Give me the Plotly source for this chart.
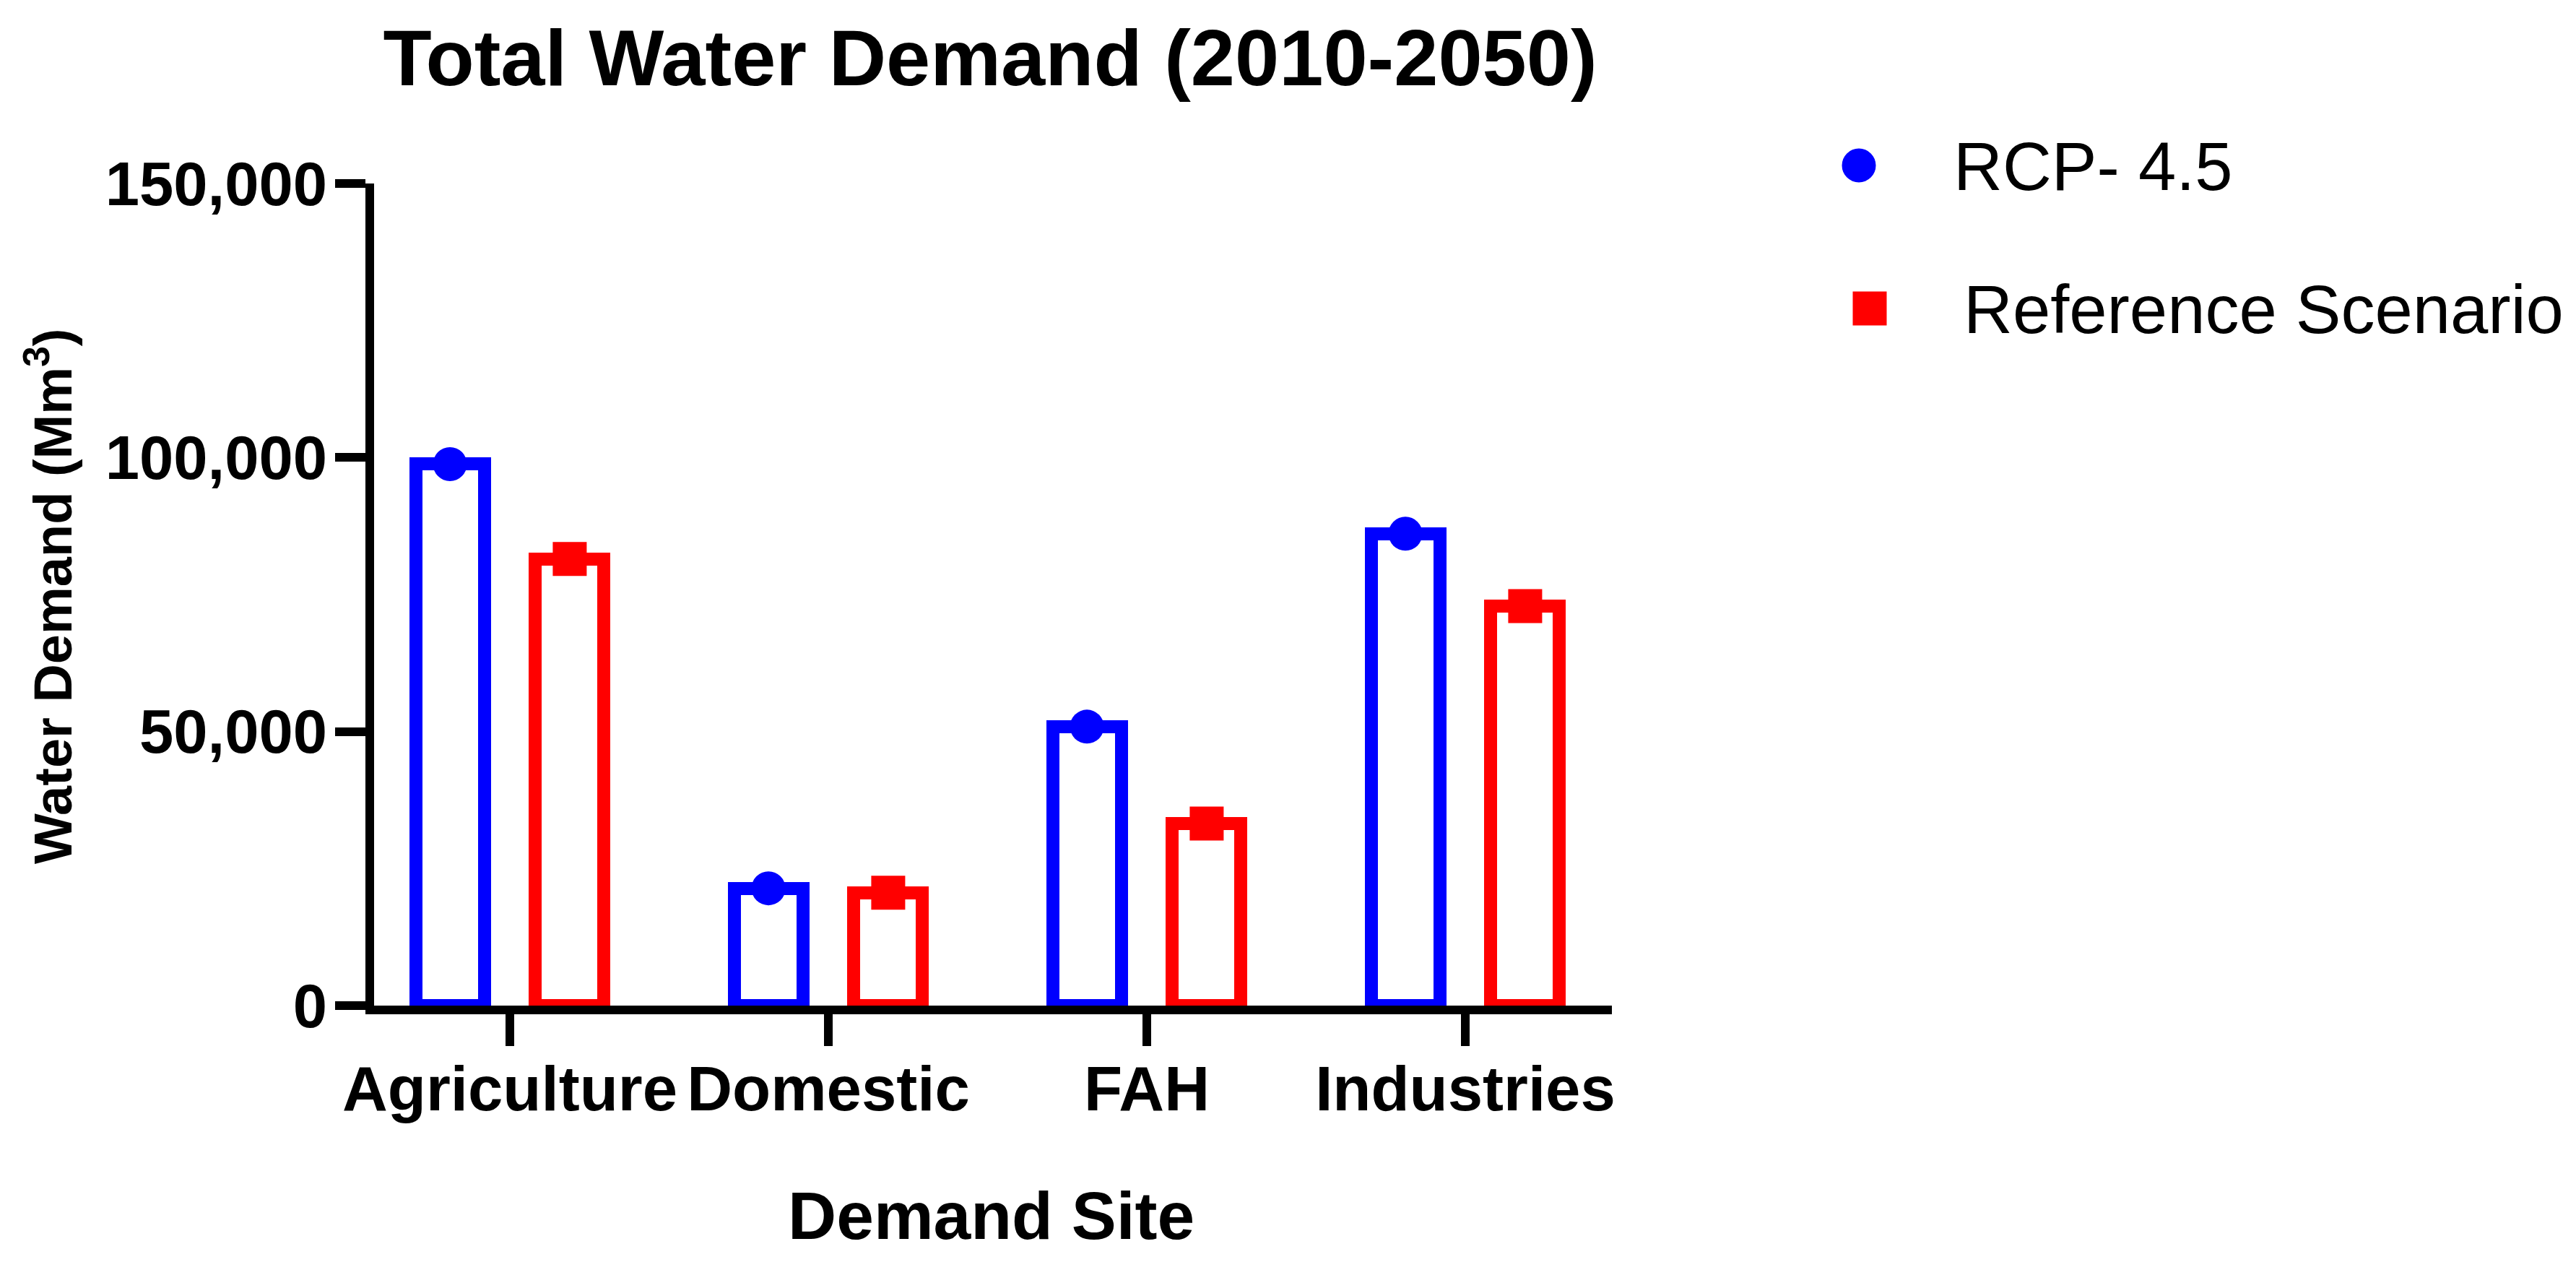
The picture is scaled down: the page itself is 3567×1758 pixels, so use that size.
import numpy as np
import plotly.graph_objects as go

# ---------------- data ----------------
categories = ["Agriculture", "Domestic", "FAH", "Industries"]
rcp45 = [98800, 21400, 50900, 86100]
reference = [81500, 20600, 33200, 72900]
series_names = ["RCP- 4.5", "Reference Scenario"]
y_ticks = [0, 50000, 100000, 150000]

# ---------------- layout constants (pixels) ----------------
W, H = 3567, 1758
PL, PR, PT, PB = 518, 2232, 254, 1392
BLUE, RED = "#0000FF", "#FF0000"
FONT = "Arial, Liberation Sans, Helvetica, sans-serif"
SHIFT = 0.188   # group offset in category units
BW = 0.2154     # bar width in category units


def px2x(px):
    return (px - PL) / (PR - PL)


def py2y(py):
    return (PB - py) / (PB - PT)


idx = np.arange(len(categories))

fig = go.Figure()
for vals, shift, color, sym, name in [
    (rcp45, -SHIFT, BLUE, "circle", series_names[0]),
    (reference, SHIFT, RED, "square", series_names[1]),
]:
    fig.add_trace(go.Bar(
        x=idx + shift, y=vals, width=BW,
        marker=dict(color="white", line=dict(color=color, width=18)),
        showlegend=False, name=name,
    ))
    fig.add_trace(go.Scatter(
        x=idx + shift, y=vals, mode="markers",
        marker=dict(symbol=sym, size=47, color=color, line=dict(width=0)),
        showlegend=False, name=name, cliponaxis=False,
    ))

fig.update_layout(
    width=W, height=H,
    margin=dict(l=PL, r=W - PR, t=PT, b=H - PB, pad=0),
    paper_bgcolor="white", plot_bgcolor="white",
    showlegend=False,
    font=dict(family=FONT, color="black"),
    title=dict(
        text="Total Water Demand (2010-2050)",
        font=dict(family=FONT, size=110, weight="bold", color="black"),
        x=1371 / W, xanchor="center",
        y=1 - 79 / H, yanchor="middle", xref="container", yref="container",
    ),
    xaxis=dict(
        range=[(PL - 706) / 441, (PR - 706) / 441],
        tickvals=idx, ticktext=categories,
        showline=True, linecolor="black", linewidth=12,
        ticks="outside", ticklen=44, tickwidth=12, tickcolor="black",
        ticklabelstandoff=-15,
        tickfont=dict(family=FONT, size=87, weight="bold", color="black"),
        showgrid=False, zeroline=False, fixedrange=True,
    ),
    yaxis=dict(
        range=[0, 150000],
        tickvals=y_ticks, tickformat=",",
        showline=True, linecolor="black", linewidth=12,
        ticks="outside", ticklen=42, tickwidth=12, tickcolor="black",
        ticklabelstandoff=-6,
        tickfont=dict(family=FONT, size=85, weight="bold", color="black"),
        showgrid=False, zeroline=False, fixedrange=True,
    ),
    bargap=0,
)

annotations = [
    dict(text="Water Demand (Mm<sup>3</sup>)", textangle=-90,
         x=px2x(68), y=py2y(826), xanchor="center", yanchor="middle",
         font=dict(family=FONT, size=74, weight="bold", color="black")),
    dict(text="Demand Site",
         x=px2x(1372), y=py2y(1683), xanchor="center", yanchor="middle",
         font=dict(family=FONT, size=93, weight="bold", color="black")),
    dict(text=series_names[0],
         x=px2x(2703), y=py2y(231), xanchor="left", yanchor="middle",
         font=dict(family=FONT, size=94, color="black")),
    dict(text=series_names[1],
         x=px2x(2717), y=py2y(429), xanchor="left", yanchor="middle",
         font=dict(family=FONT, size=94, color="black")),
]
for a in annotations:
    a.update(xref="paper", yref="paper", showarrow=False)
fig.update_layout(annotations=annotations)

# legend symbols
fig.add_shape(type="circle", xref="paper", yref="paper",
              xsizemode="pixel", ysizemode="pixel",
              xanchor=px2x(2574), yanchor=py2y(229),
              x0=-23.5, x1=23.5, y0=-23.5, y1=23.5,
              fillcolor=BLUE, line=dict(width=0))
fig.add_shape(type="rect", xref="paper", yref="paper",
              xsizemode="pixel", ysizemode="pixel",
              xanchor=px2x(2589), yanchor=py2y(427),
              x0=-23.5, x1=23.5, y0=-23.5, y1=23.5,
              fillcolor=RED, line=dict(width=0))

fig.write_html(
    "out.html",
    config={"displayModeBar": False},
    post_script="document.body.style.margin='0px';document.body.style.overflow='hidden';",
)
